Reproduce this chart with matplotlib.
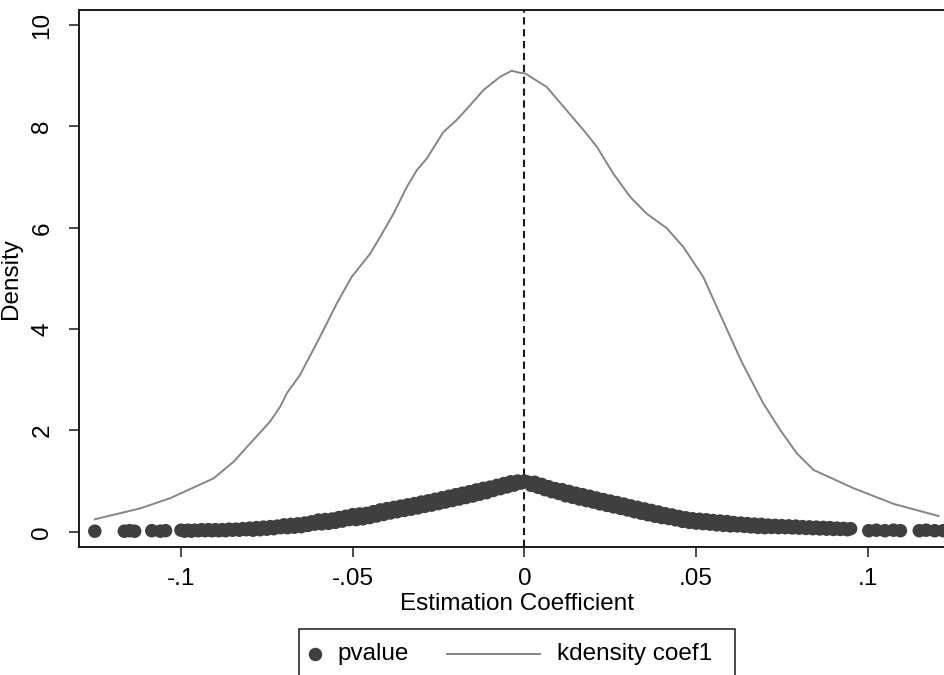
import matplotlib
matplotlib.use("Agg")
import matplotlib.pyplot as plt
from matplotlib.lines import Line2D
from matplotlib.patches import Rectangle

plt.rcParams['font.family'] = ['Liberation Sans', 'DejaVu Sans']

# kernel density of the coefficient
kd_coef = [-0.1251, -0.1119, -0.1032, -0.0906, -0.0847, -0.0799, -0.0741, -0.0711,
           -0.0692, -0.0653, -0.0595, -0.0546, -0.0503, -0.0449, -0.0420, -0.0381,
           -0.0342, -0.0313, -0.0284, -0.0236, -0.0197, -0.0158, -0.0119, -0.0071,
           -0.0037, -0.0013, 0.0002, 0.0065, 0.0123, 0.0177, 0.0211, 0.0259,
           0.0308, 0.0356, 0.0415, 0.0463, 0.0521, 0.0570, 0.0633, 0.0696,
           0.0745, 0.0793, 0.0842, 0.0958, 0.1075, 0.1206]
kd_dens = [0.245, 0.46, 0.66, 1.05, 1.38, 1.74, 2.17, 2.47,
           2.73, 3.10, 3.85, 4.51, 5.03, 5.49, 5.82, 6.28,
           6.81, 7.14, 7.37, 7.89, 8.13, 8.42, 8.72, 8.98,
           9.10, 9.06, 9.05, 8.78, 8.32, 7.89, 7.60, 7.07,
           6.61, 6.28, 5.99, 5.62, 5.03, 4.29, 3.35, 2.53,
           2.01, 1.55, 1.22, 0.86, 0.55, 0.31]

# estimated coefficients (sparse tails)
tail_coef = [-0.1251, -0.1165, -0.1150, -0.1135, -0.1085, -0.1060, -0.1045,
             0.1003, 0.1025, 0.1050, 0.1075, 0.1095, 0.1150, 0.1170, 0.1195, 0.1220, 0.1245]
tail_p = [0.01, 0.01, 0.02, 0.01, 0.02, 0.01, 0.02,
          0.02, 0.03, 0.02, 0.03, 0.02, 0.02, 0.03, 0.02, 0.02, 0.02]

# estimated coefficients (dense part)
core_coef = [
    -0.100, -0.099, -0.098, -0.097, -0.096, -0.095, -0.094, -0.093, -0.092, -0.091,
    -0.090, -0.089, -0.088, -0.087, -0.086, -0.085, -0.084, -0.083, -0.082, -0.081,
    -0.080, -0.079, -0.078, -0.077, -0.076, -0.075, -0.074, -0.073, -0.072, -0.071,
    -0.070, -0.069, -0.068, -0.067, -0.066, -0.065, -0.064, -0.063, -0.062, -0.061,
    -0.060, -0.059, -0.058, -0.057, -0.056, -0.055, -0.054, -0.053, -0.052, -0.051,
    -0.050, -0.049, -0.048, -0.047, -0.046, -0.045, -0.044, -0.043, -0.042, -0.041,
    -0.040, -0.039, -0.038, -0.037, -0.036, -0.035, -0.034, -0.033, -0.032, -0.031,
    -0.030, -0.029, -0.028, -0.027, -0.026, -0.025, -0.024, -0.023, -0.022, -0.021,
    -0.020, -0.019, -0.018, -0.017, -0.016, -0.015, -0.014, -0.013, -0.012, -0.011,
    -0.010, -0.009, -0.008, -0.007, -0.006, -0.005, -0.004, -0.003, -0.002, -0.001,
    0.000,
    0.001, 0.002, 0.003, 0.004, 0.005, 0.006, 0.007, 0.008, 0.009, 0.010,
    0.011, 0.012, 0.013, 0.014, 0.015, 0.016, 0.017, 0.018, 0.019, 0.020,
    0.021, 0.022, 0.023, 0.024, 0.025, 0.026, 0.027, 0.028, 0.029, 0.030,
    0.031, 0.032, 0.033, 0.034, 0.035, 0.036, 0.037, 0.038, 0.039, 0.040,
    0.041, 0.042, 0.043, 0.044, 0.045, 0.046, 0.047, 0.048, 0.049, 0.050,
    0.051, 0.052, 0.053, 0.054, 0.055, 0.056, 0.057, 0.058, 0.059, 0.060,
    0.061, 0.062, 0.063, 0.064, 0.065, 0.066, 0.067, 0.068, 0.069, 0.070,
    0.071, 0.072, 0.073, 0.074, 0.075, 0.076, 0.077, 0.078, 0.079, 0.080,
    0.081, 0.082, 0.083, 0.084, 0.085, 0.086, 0.087, 0.088, 0.089, 0.090,
    0.091, 0.092, 0.093, 0.094, 0.095,
]
core_p = [
    0.03, 0.01, 0.03, 0.01, 0.03, 0.02, 0.04, 0.02, 0.04, 0.02,
    0.04, 0.02, 0.04, 0.02, 0.05, 0.03, 0.05, 0.03, 0.06, 0.04,
    0.07, 0.03, 0.08, 0.04, 0.09, 0.05, 0.10, 0.06, 0.11, 0.08,
    0.135, 0.08, 0.145, 0.09, 0.155, 0.10, 0.17, 0.125, 0.195, 0.15,
    0.23, 0.155, 0.24, 0.165, 0.25, 0.185, 0.28, 0.21, 0.305, 0.24,
    0.335, 0.24, 0.35, 0.255, 0.36, 0.28, 0.395, 0.31, 0.43, 0.34,
    0.455, 0.37, 0.48, 0.395, 0.505, 0.42, 0.53, 0.445, 0.555, 0.47,
    0.585, 0.50, 0.61, 0.525, 0.64, 0.555, 0.67, 0.585, 0.70, 0.615,
    0.73, 0.645, 0.76, 0.675, 0.79, 0.705, 0.825, 0.74, 0.855, 0.77,
    0.88, 0.815, 0.915, 0.85, 0.95, 0.885, 0.985, 0.92, 1.00, 0.96,
    1.00,
    0.98, 0.915, 0.975, 0.875, 0.935, 0.83, 0.89, 0.79, 0.85, 0.755,
    0.83, 0.71, 0.795, 0.68, 0.76, 0.645, 0.73, 0.615, 0.70, 0.585,
    0.665, 0.55, 0.635, 0.52, 0.605, 0.49, 0.575, 0.46, 0.545, 0.43,
    0.51, 0.395, 0.48, 0.365, 0.45, 0.335, 0.42, 0.305, 0.39, 0.28,
    0.355, 0.26, 0.33, 0.235, 0.30, 0.205, 0.275, 0.185, 0.255, 0.17,
    0.245, 0.16, 0.235, 0.15, 0.22, 0.135, 0.21, 0.125, 0.20, 0.115,
    0.18, 0.115, 0.17, 0.105, 0.16, 0.095, 0.15, 0.085, 0.145, 0.08,
    0.13, 0.085, 0.125, 0.08, 0.12, 0.08, 0.115, 0.075, 0.11, 0.07,
    0.10, 0.065, 0.095, 0.06, 0.09, 0.055, 0.085, 0.05, 0.08, 0.045,
    0.07, 0.045, 0.065, 0.04, 0.06,
]

xticks = [-0.1, -0.05, 0, 0.05, 0.1]
xticklabels = ['-.1', '-.05', '0', '.05', '.1']
yticks = [0, 2, 4, 6, 8, 10]

W, H = 944, 675
fig = plt.figure(figsize=(W / 100, H / 100), dpi=100)
ax = fig.add_axes([79 / W, (H - 546.7) / H, 1 - 79 / W, (546.7 - 10) / H])

fs = 17.5
dark = '#3f3f3f'
grey = '#858585'

ax.plot(kd_coef, kd_dens, color=grey, lw=1.4, zorder=2)
ax.axvline(0, color='#1a1a1a', lw=1.5, ls=(0, (3.5, 2.2)), zorder=1)
ax.scatter(core_coef + tail_coef, core_p + tail_p, s=95, color=dark,
           edgecolors='none', zorder=3)

ax.set_xlim(-0.1297, 0.1222)
ax.set_ylim(-0.296, 10.30)
ax.set_xticks(xticks)
ax.set_xticklabels(xticklabels)
ax.set_yticks(yticks)
ax.set_yticklabels([str(v) for v in yticks], rotation=90, va='center')
ax.tick_params(axis='both', length=7.5, width=1.1, labelsize=fs, color='#1a1a1a')
ax.tick_params(axis='x', pad=8)
ax.tick_params(axis='y', pad=11)

for side in ['left', 'bottom', 'top']:
    ax.spines[side].set_linewidth(1.4)
    ax.spines[side].set_color('#1a1a1a')
ax.spines['right'].set_visible(False)

ax.set_xlabel('Estimation Coefficient', fontsize=fs)
ax.xaxis.set_label_coords((517 - 79) / (W - 79), -(610 - 546.7) / (546.7 - 10), transform=ax.transAxes)
ax.xaxis.label.set_va('baseline')
ax.set_ylabel('Density', fontsize=fs)
ax.yaxis.set_label_coords(-(79 - 22) / (W - 79), 0.5)

# legend drawn by hand, Stata style box running off the bottom edge
fig.add_artist(Rectangle((299 / W, -0.05), (735 - 299) / W, 0.05 + (H - 629.3) / H,
                         transform=fig.transFigure, fill=False, edgecolor='#1a1a1a', lw=1.1))
ly = (H - 654) / H
fig.add_artist(Line2D([315 / W], [ly], marker='o', ms=9.7, color=dark, mec='none',
                      transform=fig.transFigure))
fig.text(337 / W, ly, 'pvalue', fontsize=fs, va='center', ha='left')
fig.add_artist(Line2D([446.7 / W, 540 / W], [ly, ly], color=grey, lw=1.4,
                      transform=fig.transFigure))
fig.text(557 / W, ly, 'kdensity coef1', fontsize=fs, va='center', ha='left')

fig.savefig('out.png', dpi=100)
